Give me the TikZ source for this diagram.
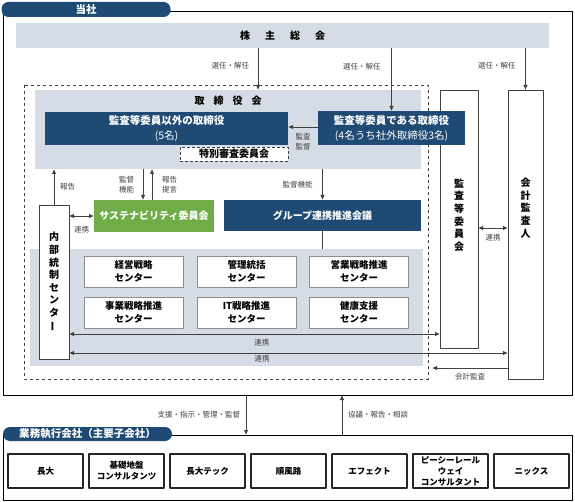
\documentclass[tikz,border=0pt]{standalone}
\usepackage{fontspec}
\setmainfont{Noto Sans CJK JP}
\usepackage{graphicx}
\usetikzlibrary{arrows.meta}
\definecolor{navy}{HTML}{1F4A74}
\definecolor{paleblue}{HTML}{D6DCE5}
\definecolor{leaf}{HTML}{70AD47}
\definecolor{ink}{HTML}{404040}

\begin{document}
\begin{tikzpicture}[x=1pt,y=-1pt,line join=round,
    every node/.style={inner sep=0pt,outer sep=0pt},
    frame/.style={draw=black,line width=0.9pt},
    tab/.style={fill=navy,rounded corners=7pt,text=white,font=\fontsize{10.5}{12}\selectfont\bfseries},
    band/.style={fill=paleblue},
    head/.style={font=\fontsize{10}{12}\selectfont\bfseries},
    navybox/.style={fill=navy,text=white,align=center,font=\fontsize{10.5}{15}\selectfont},
    vbox/.style={draw=ink,line width=0.8pt,fill=white},
    vtext/.style={align=center,font=\fontsize{10}{12.6}\selectfont\bfseries},
    unit/.style={draw=black!45,line width=0.8pt,fill=white,align=center,minimum width=99,minimum height=31,font=\fontsize{9.5}{12.5}\selectfont\bfseries},
    cobox/.style={draw=black!85,line width=1.1pt,fill=white,align=center,minimum width=75,minimum height=34,font=\fontsize{8.5}{11}\selectfont\bfseries},
    lbl/.style={text=ink,align=center,font=\fontsize{7.5}{10}\selectfont},
    arr/.style={draw=ink,line width=0.8pt,-{Latex[length=5pt,width=4.5pt]}},
    dbl/.style={draw=ink,line width=0.8pt,{Latex[length=5pt,width=4.5pt]}-{Latex[length=5pt,width=4.5pt]}}]
    \useasboundingbox (0,0) rectangle (575,502);
    \node[frame,minimum width=569,minimum height=384] (toshaF) at (287.5,203) {};
    \node[tab,minimum width=169,minimum height=15] (tosha) at (86,9.5) {当社};
    \node[band,head,minimum width=533,minimum height=25] (kabu) at (282.5,35.5) {株\hspace{15pt}主\hspace{15pt}総\hspace{15pt}会};
    \draw[dashed,ink,line width=0.8pt] (24,85) rectangle (428,379);
    \node[band,minimum width=386,minimum height=79] (tori) at (228,129.5) {};
    \node[head] (toriT) at (228,101) {取\hspace{9pt}締\hspace{9pt}役\hspace{9pt}会};
    \node[vbox,minimum width=38,minimum height=258] (kansaikai) at (459,219) {};
    \node[vtext] (kansaikaiT) at (459,215) {監\\査\\等\\委\\員\\会};
    \node[vbox,minimum width=35,minimum height=289] (kaikei) at (525.5,234.5) {};
    \node[vtext] (kaikeiT) at (525.5,208) {会\\計\\監\\査\\人};
    \node[navybox,minimum width=243,minimum height=33] (igai) at (166.5,128.5) {{\bfseries 監査等委員以外の取締役}\\(5名)};
    \node[navybox,minimum width=147,minimum height=34] (kansa1) at (391.5,128) {{\bfseries 監査等委員である取締役}\\(4名うち社外取締役3名)};
    \node[draw=ink,densely dashed,line width=0.7pt,fill=white,minimum width=108,minimum height=14,head] (tokubetsu) at (234,154) {特別審査委員会};
    \node[fill=leaf,text=white,minimum width=120,minimum height=32,head] (sustain) at (154,216) {サステナビリティ委員会};
    \node[navybox,minimum width=197,minimum height=31,head] (group) at (322.5,215.5) {グループ連携推進会議};
    \node[band,minimum width=393,minimum height=117] (units) at (226.5,307.5) {};
    \node[vbox,vtext,minimum width=30,minimum height=154] (naibu) at (54,282) {内\\部\\統\\制\\セ\\ン\\タ\\\rotatebox[origin=c]{90}{ー}};
    \foreach \x/\y/\nm/\txt in {133.5/271.5/u1/経営戦略,246.5/271.5/u2/管理統括,359/271.5/u3/営業戦略推進,133.5/312.5/u4/事業戦略推進,246.5/312.5/u5/IT戦略推進,359/312.5/u6/健康支援}
        \node[unit] (\nm) at (\x,\y) {\txt\\センター};
    \draw[arr] (kabu.south -| 258,0) -- (tori.north -| 258,0) node[lbl,pos=0.43,left=9pt] {選任・解任};
    \draw[arr] (kabu.south -| kansa1.north) -- (kansa1.north) node[lbl,pos=0.29,left=11pt] {選任・解任};
    \draw[arr] (kabu.south -| kaikei.north) -- (kaikei.north) node[lbl,pos=0.43,left=10pt] {選任・解任};
    \draw[arr] (kansa1.west |- 0,127) -- (igai.east |- 0,127) node[lbl,midway,below=6pt] {監査\\監督};
    \draw[arr] (naibu.north) -- (naibu.north |- tori.south) node[lbl,midway,right=6pt] {報告};
    \draw[arr] (tori.south -| 143,0) -- (sustain.north -| 143,0) node[lbl,midway,left=9pt] {監督\\機能};
    \draw[arr] (sustain.north -| 152,0) -- (tori.south -| 152,0) node[lbl,midway,right=10pt] {報告\\提言};
    \draw[arr] (tori.south -| group.north) -- (group.north) node[lbl,midway,left=10pt] {監督機能};
    \draw[ink,line width=0.8pt] (group.south) -- (group.south |- units.north);
    \draw[dbl] (naibu.east |- sustain.west) -- (sustain.west) node[lbl,midway,below=10pt] {連携};
    \draw[dbl] (kansaikai.east |- 0,228) -- (kaikei.west |- 0,228) node[lbl,midway,below=6pt] {連携};
    \draw[dbl] (naibu.east |- 0,334) -- (kansaikai.west |- 0,334) node[lbl,pos=0.52,below=5pt] {連携};
    \draw[dbl] (naibu.east |- 0,353) -- (kaikei.west |- 0,353) node[lbl,pos=0.44,below=2pt] {連携};
    \coordinate (auditEnd) at (432,368);
    \draw[arr] (kaikei.west |- auditEnd) -- (auditEnd) node[lbl,midway,below=5pt] {会計監査};
    \node[frame,minimum width=569,minimum height=65] (koF) at (287.5,467.5) {};
    \node[tab,minimum width=169,minimum height=14] (kogaisha) at (87.5,434) {業務執行会社（主要子会社）};
    \draw[arr] (toshaF.south -| 246,0) -- (koF.north -| 246,0) node[lbl,midway,left=6pt] {支援・指示・管理・監督};
    \draw[arr] (koF.north -| 342,0) -- (toshaF.south -| 342,0) node[lbl,midway,right=6pt] {協議・報告・相談};
    \foreach \x/\nm/\txt in {45.5/co1/長大,126.5/co2/{基礎地盤\\コンサルタンツ},207.5/co3/長大テック,288.5/co4/順風路,369.5/co5/エフェクト,450.5/co6/{ピーシーレール\\ウェイ\\コンサルタント},531.5/co7/ニックス}
        \node[cobox] (\nm) at (\x,471) {\txt};
\end{tikzpicture}
\end{document}
